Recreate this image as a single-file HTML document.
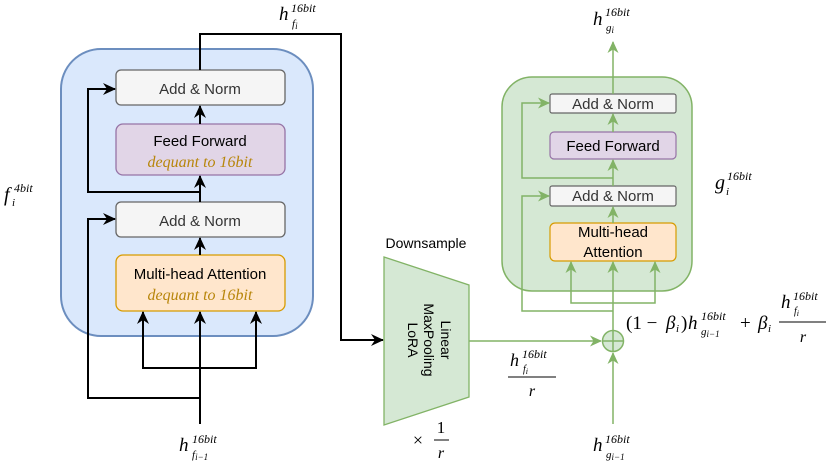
<!DOCTYPE html>
<html><head><meta charset="utf-8"><style>
html,body{margin:0;padding:0;background:#fff;}
svg{display:block;}
.s{font-family:"Liberation Sans",sans-serif;}
.m{font-family:"Liberation Serif",serif;font-style:italic;}
.r{font-family:"Liberation Serif",serif;}
</style></head><body>
<svg width="830" height="462" viewBox="0 0 830 462" xmlns="http://www.w3.org/2000/svg">
<defs>
<marker id="ab" markerWidth="14" markerHeight="14" refX="12" refY="6" orient="auto" markerUnits="userSpaceOnUse"><path d="M0,0 L13,6 L0,12 L4,6 z" fill="#000"/></marker>
<marker id="ag" markerWidth="14" markerHeight="14" refX="11" refY="5.5" orient="auto" markerUnits="userSpaceOnUse"><path d="M0,0 L12,5.5 L0,11 L3.5,5.5 z" fill="#82b366"/></marker>
</defs>
<!-- left block -->
<rect x="61" y="49" width="252" height="287" rx="40" fill="#dae8fc" stroke="#6c8ebf" stroke-width="2"/>
<rect x="116" y="70" width="169" height="35" rx="5" fill="#f5f5f5" stroke="#666" stroke-width="1.3"/>
<rect x="116" y="124" width="169" height="51" rx="7" fill="#e1d5e7" stroke="#9673a6" stroke-width="1.3"/>
<rect x="116" y="202" width="169" height="35" rx="5" fill="#f5f5f5" stroke="#666" stroke-width="1.3"/>
<rect x="116" y="255" width="169" height="56" rx="7" fill="#ffe6cc" stroke="#d79b00" stroke-width="1.3"/>
<text class="s" x="200" y="94" font-size="15" fill="#333" text-anchor="middle">Add &amp; Norm</text>
<text class="s" x="200" y="146" font-size="15" text-anchor="middle">Feed Forward</text>
<text class="m" x="200" y="167" font-size="16" fill="#b8860b" text-anchor="middle">dequant to 16bit</text>
<text class="s" x="200" y="226" font-size="15" fill="#333" text-anchor="middle">Add &amp; Norm</text>
<text class="s" x="200" y="279" font-size="15" text-anchor="middle">Multi-head Attention</text>
<text class="m" x="200" y="300" font-size="16" fill="#b8860b" text-anchor="middle">dequant to 16bit</text>
<g stroke="#000" stroke-width="2" fill="none">
<path d="M200,202 V176" marker-end="url(#ab)"/>
<path d="M200,255 V238" marker-end="url(#ab)"/>
<path d="M200,124 V106" marker-end="url(#ab)"/>
<path d="M200,192 H88 V89 H115" marker-end="url(#ab)"/>
<path d="M200,424 V312" marker-end="url(#ab)"/>
<path d="M200,398 H88 V219 H115" marker-end="url(#ab)"/>
<path d="M200,368 H143 V312" marker-end="url(#ab)"/>
<path d="M200,368 H256 V312" marker-end="url(#ab)"/>
<path d="M200,70 V34 H341 V340 H383" marker-end="url(#ab)"/>
</g>
<text class="m" x="279" y="20" font-size="19">h</text>
<text class="m" x="291" y="12" font-size="12">16bit</text>
<text class="m" x="292" y="27" font-size="11">f<tspan font-size="9" dy="2">i</tspan></text>
<text class="m" x="4" y="201" font-size="20">f</text>
<text class="m" x="14" y="192" font-size="12">4bit</text>
<text class="m" x="12" y="206" font-size="11">i</text>
<text class="m" x="179" y="451" font-size="19">h</text>
<text class="m" x="192" y="443" font-size="12">16bit</text>
<text class="m" x="192" y="458" font-size="11">f<tspan font-size="9" dy="2">i−1</tspan></text>
<!-- downsample -->
<text class="s" x="426" y="248" font-size="14" text-anchor="middle">Downsample</text>
<path d="M384,257 L469,285 L469,397 L384,425 Z" fill="#d5e8d4" stroke="#82b366" stroke-width="1.3"/>
<g class="s" font-size="14" text-anchor="middle">
<text transform="translate(441,340) rotate(90)">Linear</text>
<text transform="translate(424,340) rotate(90)">MaxPooling</text>
<text transform="translate(408,340) rotate(90)">LoRA</text>
</g>
<text class="r" x="418" y="446" font-size="18" text-anchor="middle">×</text>
<text class="r" x="441" y="433" font-size="17" text-anchor="middle">1</text>
<line x1="434" y1="440" x2="449" y2="440" stroke="#000" stroke-width="1"/>
<text class="m" x="441" y="458" font-size="16" text-anchor="middle">r</text>
<line x1="469" y1="341" x2="601" y2="341" stroke="#82b366" stroke-width="1.5" marker-end="url(#ag)"/>
<text class="m" x="510" y="366" font-size="18">h</text>
<text class="m" x="522" y="358" font-size="12">16bit</text>
<text class="m" x="523" y="372" font-size="10">f<tspan font-size="8" dy="2">i</tspan></text>
<line x1="508" y1="377" x2="556" y2="377" stroke="#000" stroke-width="1"/>
<text class="m" x="532" y="396" font-size="16" text-anchor="middle">r</text>
<!-- green block -->
<rect x="502" y="77" width="190" height="214" rx="30" fill="#d5e8d4" stroke="#82b366" stroke-width="1.5"/>
<rect x="550" y="94" width="126" height="19" rx="2" fill="#f5f5f5" stroke="#666" stroke-width="1.2"/>
<rect x="550" y="132" width="126" height="27" rx="4" fill="#e1d5e7" stroke="#9673a6" stroke-width="1.2"/>
<rect x="550" y="186" width="126" height="20" rx="2" fill="#f5f5f5" stroke="#666" stroke-width="1.2"/>
<rect x="550" y="223" width="126" height="38" rx="5" fill="#ffe6cc" stroke="#d79b00" stroke-width="1.2"/>
<g class="s" font-size="15" text-anchor="middle">
<text x="613" y="109" fill="#333">Add &amp; Norm</text>
<text x="613" y="151">Feed Forward</text>
<text x="613" y="201" fill="#333">Add &amp; Norm</text>
<text x="613" y="237">Multi-head</text>
<text x="613" y="257">Attention</text>
</g>
<g stroke="#82b366" stroke-width="1.5" fill="none">
<path d="M613,94 V42" marker-end="url(#ag)"/>
<path d="M613,132 V114" marker-end="url(#ag)"/>
<path d="M613,186 V160" marker-end="url(#ag)"/>
<path d="M613,223 V207" marker-end="url(#ag)"/>
<path d="M613,178 H522 V103 H549" marker-end="url(#ag)"/>
<path d="M613,331 V262" marker-end="url(#ag)"/>
<path d="M613,311 H522 V196 H549" marker-end="url(#ag)"/>
<path d="M613,303 H571 V262" marker-end="url(#ag)"/>
<path d="M613,303 H655 V262" marker-end="url(#ag)"/>
<path d="M613,424 V353" marker-end="url(#ag)"/>
<circle cx="613" cy="341" r="10.5" fill="#d5e8d4"/>
<path d="M602.5,341 H623.5 M613,330.5 V351.5"/>
</g>
<text class="m" x="593" y="25" font-size="19">h</text>
<text class="m" x="605" y="16" font-size="12">16bit</text>
<text class="m" x="606" y="31" font-size="11">g<tspan font-size="9" dy="2">i</tspan></text>
<text class="m" x="715" y="189" font-size="20">g</text>
<text class="m" x="727" y="180" font-size="12">16bit</text>
<text class="m" x="726" y="195" font-size="11">i</text>
<text class="m" x="593" y="451" font-size="19">h</text>
<text class="m" x="605" y="443" font-size="12">16bit</text>
<text class="m" x="606" y="458" font-size="11">g<tspan font-size="9" dy="2">i−1</tspan></text>
<!-- formula -->
<text class="r" x="626" y="329" font-size="19">(1 − </text>
<text class="m" x="666" y="329" font-size="19">β</text>
<text class="m" x="676" y="332" font-size="11">i</text>
<text class="r" x="681" y="329" font-size="19">)</text>
<text class="m" x="688" y="329" font-size="19">h</text>
<text class="m" x="701" y="320" font-size="12">16bit</text>
<text class="m" x="701" y="335" font-size="11">g<tspan font-size="9" dy="2">i−1</tspan></text>
<text class="r" x="740" y="329" font-size="19">+</text>
<text class="m" x="758" y="329" font-size="19">β</text>
<text class="m" x="768" y="332" font-size="11">i</text>
<text class="m" x="781" y="308" font-size="19">h</text>
<text class="m" x="793" y="300" font-size="12">16bit</text>
<text class="m" x="794" y="314" font-size="10">f<tspan font-size="8" dy="2">i</tspan></text>
<line x1="779" y1="322" x2="826" y2="322" stroke="#000" stroke-width="1"/>
<text class="m" x="803" y="342" font-size="16" text-anchor="middle">r</text>
</svg>
</body></html>
